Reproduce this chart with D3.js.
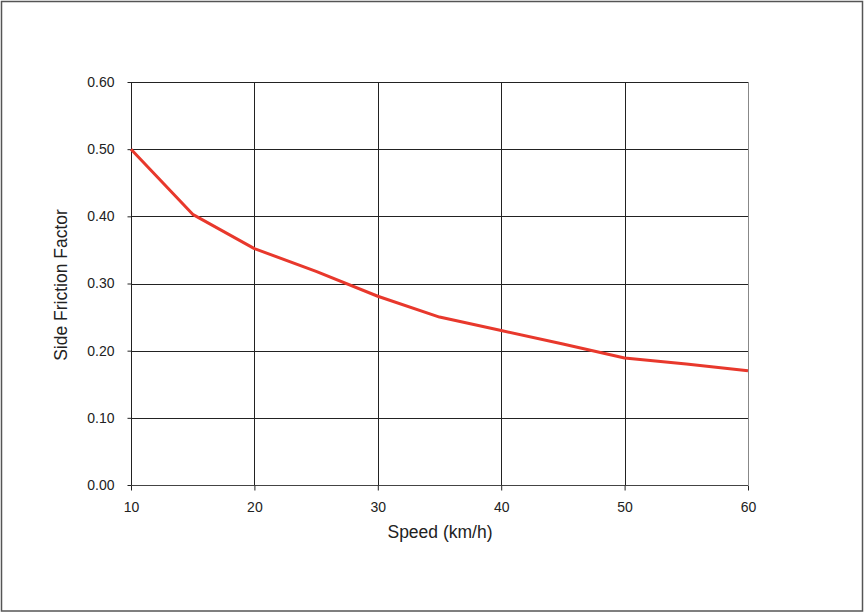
<!DOCTYPE html>
<html><head><meta charset="utf-8">
<script src="https://cdn.jsdelivr.net/npm/d3@7"></script>
<style>body{margin:0;background:#fff;} svg{display:block;} text{font-family:"Liberation Sans",Arial,sans-serif;fill:#222;}</style>
</head><body>
<svg id="c" width="865" height="613"></svg>
<script>
const speeds = [10, 15, 20, 25, 30, 35, 40, 45, 50, 55, 60];
const friction = [0.50, 0.403, 0.352, 0.318, 0.281, 0.250, 0.230, 0.210, 0.189, 0.180, 0.170];
const xTicks = [10, 20, 30, 40, 50, 60];
const yTicks = [0, 0.1, 0.2, 0.3, 0.4, 0.5, 0.6];

const svg = d3.select("#c");
svg.append("rect").attr("x", 1.5).attr("y", 1.5).attr("width", 861).attr("height", 609.5)
  .attr("fill", "#fff").attr("stroke", "#555").attr("stroke-width", 1.5);

const L = 131, R = 748, T = 82, B = 485;
const x = d3.scaleLinear().domain([10, 60]).range([L, R]);
const y = d3.scaleLinear().domain([0, 0.6]).range([B, T]);

// horizontal gridlines
svg.append("g").selectAll("line").data(yTicks.filter(d => d > 0)).join("line")
  .attr("x1", L).attr("x2", R).attr("y1", d => Math.round(y(d)) + 0.5).attr("y2", d => Math.round(y(d)) + 0.5)
  .attr("stroke", "#222").attr("stroke-width", 1);
// vertical gridlines
svg.append("g").selectAll("line").data(xTicks.filter(d => d > 10 && d < 60)).join("line")
  .attr("x1", d => Math.round(x(d)) + 0.5).attr("x2", d => Math.round(x(d)) + 0.5).attr("y1", T).attr("y2", B)
  .attr("stroke", "#222").attr("stroke-width", 1);
// right border gray
svg.append("line").attr("x1", R + 0.5).attr("x2", R + 0.5).attr("y1", T).attr("y2", B)
  .attr("stroke", "#888").attr("stroke-width", 1);

const font = '"Liberation Sans",Arial,sans-serif';
// Y axis
const yAxis = svg.append("g").attr("transform", `translate(${L + 0.5},0)`)
  .call(d3.axisLeft(y).tickValues(yTicks).tickFormat(d3.format(".2f")).tickSize(4).tickPadding(13));
yAxis.select(".domain").attr("stroke", "#222").attr("d", `M0,${T}V${B}`);
yAxis.selectAll(".tick line").attr("stroke", "#222");
yAxis.selectAll("text").attr("font-size", 14).attr("fill", "#222").style("font-family", font);

// X axis
const xAxis = svg.append("g").attr("transform", `translate(0,${B + 0.5})`)
  .call(d3.axisBottom(x).tickValues(xTicks).tickFormat(d3.format("d")).tickSize(5).tickPadding(12));
xAxis.select(".domain").attr("stroke", "#444").attr("d", `M${L},0H${R}`);
xAxis.selectAll(".tick line").attr("stroke", "#222");
xAxis.selectAll("text").attr("font-size", 14).attr("fill", "#222").style("font-family", font);

// line
const data = speeds.map((s, i) => [s, friction[i]]);
svg.append("path").datum(data)
  .attr("d", d3.line().x(d => x(d[0])).y(d => y(d[1])))
  .attr("fill", "none").attr("stroke", "#e8382c").attr("stroke-width", 3).attr("stroke-linejoin", "round");

// axis titles
svg.append("text").attr("x", 440).attr("y", 538).attr("text-anchor", "middle")
  .attr("font-size", 17.5).text("Speed (km/h)");
svg.append("text").attr("transform", `translate(67,285) rotate(-90)`).attr("text-anchor", "middle")
  .attr("font-size", 17.5).text("Side Friction Factor");
</script>
</body></html>
